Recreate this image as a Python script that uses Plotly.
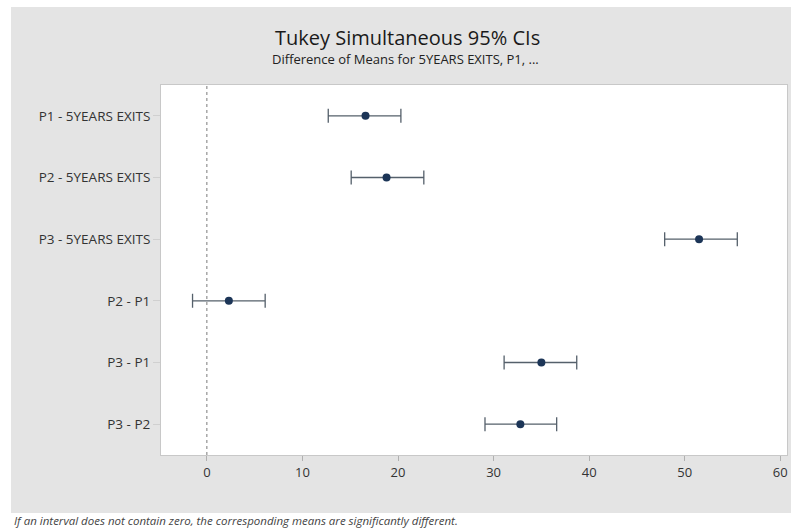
import plotly.graph_objects as go

# ---- data ----
comparisons = ["P1 - 5YEARS EXITS", "P2 - 5YEARS EXITS", "P3 - 5YEARS EXITS",
               "P2 - P1", "P3 - P1", "P3 - P2"]
diff_means = [16.6, 18.8, 51.5, 2.3, 35.0, 32.8]
ci_lower = [12.7, 15.1, 47.9, -1.5, 31.1, 29.1]
ci_upper = [20.3, 22.7, 55.5, 6.1, 38.7, 36.6]
x_ticks = [0, 10, 20, 30, 40, 50, 60]
ref_value = 0

title_text = "Tukey Simultaneous 95% CIs"
subtitle_text = "Difference of Means for 5YEARS EXITS, P1, ..."
footnote_text = ("If an interval does not contain zero, the corresponding means "
                 "are significantly different.")

# ---- layout geometry (pixels) ----
W, H = 791, 529
PL, PR, PT, PB = 161, 787, 85, 455  # plot area edges
pw, ph = PR - PL, PB - PT


def px(x):
    return (x - PL) / pw


def py(y):
    return (PB - y) / ph


err_plus = [u - m for u, m in zip(ci_upper, diff_means)]
err_minus = [m - l for m, l in zip(diff_means, ci_lower)]

fig = go.Figure()
fig.add_trace(go.Scatter(
    x=diff_means, y=comparisons, mode="markers",
    marker=dict(color="#1c3557", size=8),
    error_x=dict(type="data", symmetric=False, array=err_plus,
                 arrayminus=err_minus, color="#55606b", thickness=1.3,
                 width=7),
    showlegend=False, hoverinfo="x+y",
))

gray = "#e4e4e4"
shapes = [
    # white surround outside the gray panel
    dict(type="rect", xref="paper", yref="paper", x0=px(0), x1=px(W),
         y0=py(7), y1=py(0), fillcolor="white", line_width=0, layer="below"),
    dict(type="rect", xref="paper", yref="paper", x0=px(0), x1=px(11),
         y0=py(H), y1=py(0), fillcolor="white", line_width=0, layer="below"),
    dict(type="rect", xref="paper", yref="paper", x0=px(0), x1=px(W),
         y0=py(H), y1=py(513), fillcolor="white", line_width=0, layer="below"),
    # reference line at zero
    dict(type="line", xref="x", yref="paper", x0=ref_value, x1=ref_value,
         y0=0, y1=1, line=dict(color="#7a7a7a", width=1, dash="dot"),
         layer="above"),
]

annotations = [
    dict(text=title_text, xref="paper", yref="paper", x=px(407), y=py(37),
         xanchor="center", yanchor="middle", showarrow=False,
         font=dict(family="Open Sans", size=20, color="#1a1a1a")),
    dict(text=subtitle_text, xref="paper", yref="paper", x=px(405), y=py(59),
         xanchor="center", yanchor="middle", showarrow=False,
         font=dict(family="Open Sans", size=13, color="#222222")),
    dict(text="<i>" + footnote_text + "</i>", xref="paper", yref="paper",
         x=px(12), y=py(520), xanchor="left", yanchor="middle",
         showarrow=False,
         font=dict(family="Open Sans", size=11.5, color="#444444")),
]

fig.update_layout(
    width=W, height=H,
    margin=dict(l=PL, r=W - PR, t=PT, b=H - PB, pad=0),
    paper_bgcolor=gray, plot_bgcolor="white",
    shapes=shapes, annotations=annotations,
    font=dict(family="Open Sans", color="#333333"),
    xaxis=dict(range=[-4.8, 60.7], tickvals=x_ticks, showgrid=False,
               zeroline=False, showline=True, linecolor="#c8c8c8",
               mirror=True, ticks="outside", ticklen=5, tickcolor="#b0b0b0",
               tickfont=dict(size=13, color="#333333")),
    yaxis=dict(type="category", categoryorder="array",
               categoryarray=comparisons, range=[5.5, -0.5], showgrid=False,
               zeroline=False, showline=True, linecolor="#c8c8c8",
               mirror=True, ticks="outside", ticklen=7, tickcolor="#d0d0d0",
               tickfont=dict(size=13.5, color="#333333")),
)

fig.write_html("out.html")
